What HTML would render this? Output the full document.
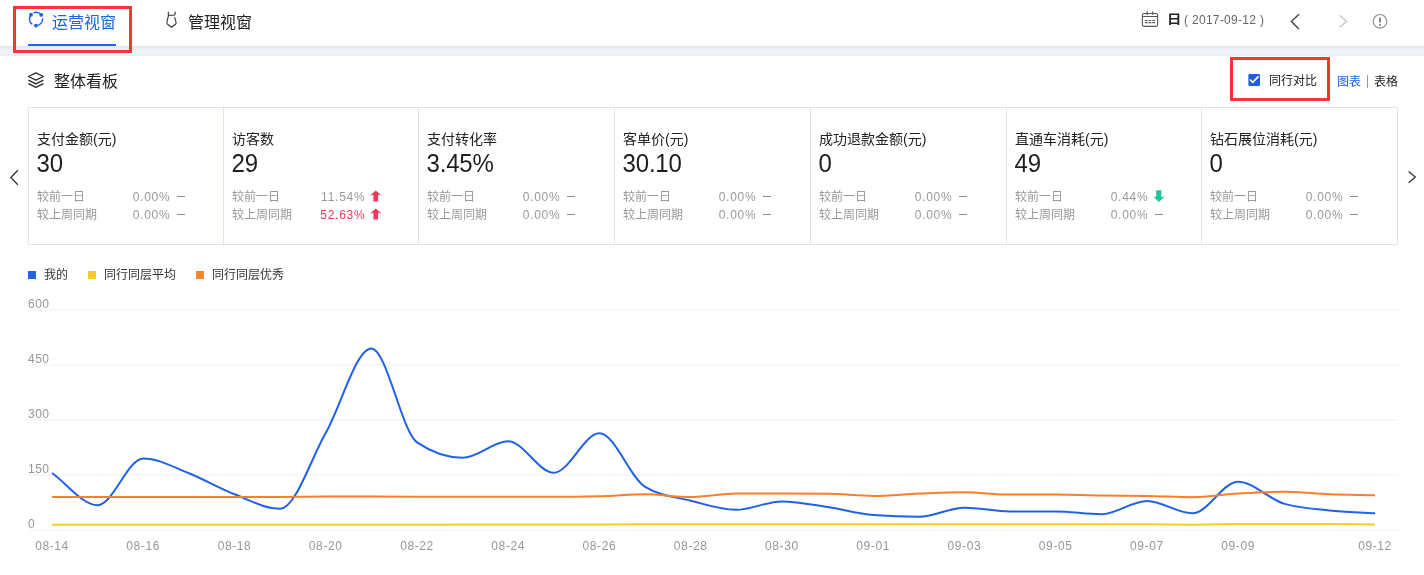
<!DOCTYPE html>
<html lang="zh-CN">
<head>
<meta charset="utf-8">
<title>整体看板</title>
<style>
html,body{margin:0;padding:0;}
body{width:1424px;height:575px;position:relative;overflow:hidden;background:#fff;
  font-family:"Liberation Sans","Noto Sans CJK SC",sans-serif;color:#333;}
.abs{position:absolute;white-space:nowrap;}
.band{position:absolute;left:0;top:46px;width:1424px;height:10px;background:linear-gradient(#dfe2e7 0,#e5e8ed 12%,#ebeef2 30%,#eef1f5 45%,#eef1f5 85%,#e9ecf1 100%);}
.tab{position:absolute;top:10.6px;height:24px;line-height:24px;font-size:16px;}
.redbox{position:absolute;border:3px solid #fa3333;box-sizing:border-box;}
.cards{position:absolute;left:28px;top:107px;width:1370px;height:138px;box-sizing:border-box;border:1px solid #dde6f0;}
.card{position:absolute;top:107px;height:138px;width:196px;box-sizing:border-box;border-left:1px solid #dde6f0;}
.ct{position:absolute;left:8px;top:22px;font-size:14px;line-height:20px;color:#222;white-space:nowrap;}
.cv{position:absolute;left:7.6px;top:42px;font-size:24px;line-height:30px;color:#1e1e1e;white-space:nowrap;letter-spacing:-0.2px;transform:scaleY(1.07);transform-origin:0 72%;}
.rl{position:absolute;left:8px;font-size:12px;line-height:18px;color:#999;white-space:nowrap;}
.rv{position:absolute;right:53.6px;font-size:12px;line-height:18px;color:#999;white-space:nowrap;letter-spacing:0.75px;}
.r1{top:81px;}.r2{top:99px;}
.red{color:#f0385a;}
.dash{position:absolute;left:148px;width:8px;height:1px;background:#8a8a8a;}
.d1{top:89px;}.d2{top:107px;}
.arr{position:absolute;left:146.4px;width:12px;height:13px;}
.lg{position:absolute;top:265px;font-size:12px;line-height:20px;color:#333;white-space:nowrap;}
.sq{position:absolute;top:271px;width:8px;height:8px;}
svg text{font-family:"Liberation Sans","Noto Sans CJK SC",sans-serif;}
</style>
</head>
<body>
<!-- top bar -->
<div class="band"></div>
<svg class="abs" style="left:28px;top:11px" width="16" height="18" viewBox="0 0 16 18" fill="none" stroke="#2062e6" stroke-width="1.4">
  <path d="M5.52,1.92 A6.6,6.6 0 0 1 13.30,3.94"/><path d="M14.67,7.42 A6.6,6.6 0 0 1 7.87,14.60"/><path d="M4.31,13.41 A6.6,6.6 0 0 1 3.04,3.76"/>
  <circle cx="3.04" cy="3.76" r="1.9" fill="#2062e6" stroke="none"/><circle cx="13.30" cy="3.94" r="1.9" fill="#2062e6" stroke="none"/><circle cx="7.87" cy="14.60" r="1.9" fill="#2062e6" stroke="none"/>
</svg>
<div class="tab" style="left:52px;color:#2062e6;">运营视窗</div>
<div class="abs" style="left:28px;top:44px;width:88px;height:2px;background:#2062e6;"></div>
<div class="redbox" style="left:13px;top:6px;width:119px;height:47px;"></div>
<svg class="abs" style="left:164px;top:11px" width="16" height="18" viewBox="0 0 16 18" fill="none" stroke="#333" stroke-width="1.1">
  <path d="M4.3,0.8 V4.25 M11.1,0.8 V4.1 M4.3,4.25 H10.7 M4.5,4.25 L2.9,11.4 Q2.6,12.5 3.6,13.3 L7.6,16.3 L11.4,13.3 Q12.4,12.5 12.1,11.4 L10.6,6.2" stroke-linejoin="round"/>
</svg>
<div class="tab" style="left:188px;color:#222;">管理视窗</div>

<svg class="abs" style="left:1141px;top:11px" width="18" height="18" viewBox="0 0 18 18" fill="none" stroke="#555" stroke-width="1.1">
  <rect x="1.4" y="2.5" width="15.2" height="12.9" rx="1.6"/><path d="M1.4,5.5H16.6M6.2,0.2V4M11.8,0.2V4"/><path d="M4,9.5H14M4,11.6H14" stroke-dasharray="2.7 0.95"/>
</svg>
<div class="abs" style="left:1167px;top:11px;font-size:12px;line-height:18px;font-weight:bold;color:#222;transform:scale(1.2,1);transform-origin:0 80%;">日</div>
<div class="abs" style="left:1184px;top:11px;font-size:12px;line-height:18px;color:#666;letter-spacing:0.3px;">( 2017-09-12 )</div>
<svg class="abs" style="left:1286px;top:11px" width="20" height="22" viewBox="0 0 20 22" fill="none" stroke="#444" stroke-width="1.4"><path d="M13,3.2 L5.4,10.6 L13,18"/></svg>
<svg class="abs" style="left:1334px;top:11px" width="20" height="22" viewBox="0 0 20 22" fill="none" stroke="#cccfd4" stroke-width="1.6"><path d="M5.5,4.4 L12.6,10.4 L5.5,16.4"/></svg>
<svg class="abs" style="left:1371px;top:12px" width="18" height="18" viewBox="0 0 18 18" fill="none" stroke="#8a8a8a" stroke-width="1.1"><circle cx="9" cy="9.3" r="6.8"/><path d="M9,5.4V10.6" stroke-width="2"/><circle cx="9" cy="12.9" r="1.1" fill="#8a8a8a" stroke="none"/></svg>

<!-- section header -->
<svg class="abs" style="left:27px;top:71px" width="18" height="18" viewBox="0 0 18 18" fill="none" stroke="#2a2a2a" stroke-width="1.35" stroke-linejoin="round">
  <path d="M8.9,1.9 L16.4,5.5 L8.9,9.1 L1.4,5.5 Z"/><path d="M1.4,9.2 L8.9,12.9 L16.4,9.2"/><path d="M1.4,12.6 L8.9,16.3 L16.4,12.6"/>
</svg>
<div class="abs" style="left:54px;top:70px;font-size:16px;line-height:24px;color:#222;">整体看板</div>

<div class="redbox" style="left:1230px;top:57px;width:100px;height:44px;"></div>
<svg class="abs" style="left:1248px;top:74px" width="12" height="12" viewBox="0 0 12 12"><rect x="0.4" width="11.6" height="12" rx="1.3" fill="#1f5de6"/><path d="M1.9,5.5 L4.8,8.4 L10.4,2.4" fill="none" stroke="#fff" stroke-width="1.7"/></svg>
<div class="abs" style="left:1269px;top:70.6px;font-size:12px;line-height:20px;color:#222;">同行对比</div>
<div class="abs" style="left:1337px;top:72px;font-size:12px;line-height:20px;color:#2062e6;">图表</div>
<div class="abs" style="left:1367px;top:75px;width:1px;height:13px;background:#999;"></div>
<div class="abs" style="left:1374px;top:72px;font-size:12px;line-height:20px;color:#222;">表格</div>

<!-- carousel arrows -->
<svg class="abs" style="left:6px;top:166px" width="18" height="24" viewBox="0 0 18 24" fill="none" stroke="#333" stroke-width="1.3"><path d="M11.8,4.3 L4.9,11.5 L11.8,18.7"/></svg>
<svg class="abs" style="left:1402px;top:166px" width="18" height="24" viewBox="0 0 18 24" fill="none" stroke="#333" stroke-width="1.3"><path d="M6.6,5.4 L13.3,11.1 L6.6,16.8"/></svg>

<!-- cards -->
<div class="cards"></div>
<div class="card" style="left:28px;"><div class="ct">支付金额(元)</div><div class="cv">30</div><div class="rl r1">较前一日</div><div class="rv r1">0.00%</div><div class="dash d1"></div><div class="rl r2">较上周同期</div><div class="rv r2">0.00%</div><div class="dash d2"></div></div>
<div class="card" style="left:223px;"><div class="ct">访客数</div><div class="cv">29</div><div class="rl r1">较前一日</div><div class="rv r1">11.54%</div><svg class="arr " style="top:82.8px" viewBox="0 0 12 13"><path d="M5.8,0.4 L11.5,5.4 L8.1,4.7 V11.5 H3.4 V4.7 L0.1,5.4 Z" fill="#f0385a"/></svg><div class="rl r2">较上周同期</div><div class="rv r2 red">52.63%</div><svg class="arr " style="top:100.8px" viewBox="0 0 12 13"><path d="M5.8,0.4 L11.5,5.4 L8.1,4.7 V11.5 H3.4 V4.7 L0.1,5.4 Z" fill="#f0385a"/></svg></div>
<div class="card" style="left:418px;"><div class="ct">支付转化率</div><div class="cv">3.45%</div><div class="rl r1">较前一日</div><div class="rv r1">0.00%</div><div class="dash d1"></div><div class="rl r2">较上周同期</div><div class="rv r2">0.00%</div><div class="dash d2"></div></div>
<div class="card" style="left:614px;"><div class="ct">客单价(元)</div><div class="cv">30.10</div><div class="rl r1">较前一日</div><div class="rv r1">0.00%</div><div class="dash d1"></div><div class="rl r2">较上周同期</div><div class="rv r2">0.00%</div><div class="dash d2"></div></div>
<div class="card" style="left:810px;"><div class="ct">成功退款金额(元)</div><div class="cv">0</div><div class="rl r1">较前一日</div><div class="rv r1">0.00%</div><div class="dash d1"></div><div class="rl r2">较上周同期</div><div class="rv r2">0.00%</div><div class="dash d2"></div></div>
<div class="card" style="left:1006px;"><div class="ct">直通车消耗(元)</div><div class="cv">49</div><div class="rl r1">较前一日</div><div class="rv r1">0.44%</div><svg class="arr " style="top:82.8px" viewBox="0 0 12 13"><path d="M3.2,0.2 H8.3 V7.1 L11.6,6.4 L5.9,12.1 L0.2,6.4 L3.2,7.1 Z" fill="#1ec29b"/></svg><div class="rl r2">较上周同期</div><div class="rv r2">0.00%</div><div class="dash d2"></div></div>
<div class="card" style="left:1201px;"><div class="ct">钻石展位消耗(元)</div><div class="cv">0</div><div class="rl r1">较前一日</div><div class="rv r1">0.00%</div><div class="dash d1"></div><div class="rl r2">较上周同期</div><div class="rv r2">0.00%</div><div class="dash d2"></div></div>

<!-- legend -->
<div class="sq" style="left:28px;background:#2062e6;"></div><div class="lg" style="left:44px;">我的</div>
<div class="sq" style="left:88px;background:#f5cd23;"></div><div class="lg" style="left:104px;">同行同层平均</div>
<div class="sq" style="left:196px;background:#fa832d;"></div><div class="lg" style="left:212px;">同行同层优秀</div>

<!-- chart -->
<svg class="abs" style="left:0;top:290px" width="1424" height="285" viewBox="0 290 1424 285">
  <g stroke="#edf0f6" stroke-width="1">
    <path d="M29,310H1398M29,365H1398M29,420H1398M29,475H1398M29,530H1398"/>
  </g>
  <g font-size="12" fill="#969696" letter-spacing="0.5">
    <text x="28" y="308">600</text><text x="28" y="363">450</text><text x="28" y="418">300</text><text x="28" y="473">150</text><text x="28" y="528">0</text>
  </g>
  <g font-size="12" fill="#969696" text-anchor="middle" letter-spacing="0.6">
    <text x="52.0" y="550">08-14</text>
    <text x="143.2" y="550">08-16</text>
    <text x="234.5" y="550">08-18</text>
    <text x="325.7" y="550">08-20</text>
    <text x="417.0" y="550">08-22</text>
    <text x="508.2" y="550">08-24</text>
    <text x="599.4" y="550">08-26</text>
    <text x="690.7" y="550">08-28</text>
    <text x="781.9" y="550">08-30</text>
    <text x="873.2" y="550">09-01</text>
    <text x="964.4" y="550">09-03</text>
    <text x="1055.7" y="550">09-05</text>
    <text x="1146.9" y="550">09-07</text>
    <text x="1238.1" y="550">09-09</text>
    <text x="1375.0" y="550">09-12</text>
  </g>
  <path d="M52.0,473.0C67.2,483.7 82.4,505.2 97.6,505.2C112.8,505.2 128.0,458.4 143.2,458.4C158.4,458.4 173.7,467.2 188.9,473.2C204.1,479.2 219.3,488.4 234.5,494.3C249.7,500.2 264.9,508.8 280.1,508.8C295.3,508.8 310.5,459.7 325.7,433.0C340.9,406.3 356.1,348.4 371.3,348.4C386.6,348.4 401.8,432.1 417.0,442.4C432.2,452.7 447.4,457.8 462.6,457.8C477.8,457.8 493.0,441.3 508.2,441.3C523.4,441.3 538.6,472.8 553.8,472.8C569.0,472.8 584.2,433.3 599.4,433.3C614.7,433.3 629.9,477.7 645.1,486.9C660.3,496.1 675.5,496.9 690.7,500.7C705.9,504.5 721.1,509.8 736.3,509.8C751.5,509.8 766.7,501.4 781.9,501.4C797.1,501.4 812.3,504.7 827.6,507.0C842.8,509.3 858.0,514.0 873.2,515.1C888.4,516.2 903.6,516.8 918.8,516.8C934.0,516.8 949.2,507.7 964.4,507.7C979.6,507.7 994.8,511.4 1010.0,511.4C1025.2,511.4 1040.4,511.4 1055.7,511.4C1070.9,511.4 1086.1,514.3 1101.3,514.3C1116.5,514.3 1131.7,501.0 1146.9,501.0C1162.1,501.0 1177.3,513.3 1192.5,513.3C1207.7,513.3 1222.9,481.7 1238.1,481.7C1253.3,481.7 1268.6,499.1 1283.8,503.6C1299.0,508.1 1314.2,508.8 1329.4,510.4C1344.6,512.0 1359.8,512.3 1375.0,513.3" fill="none" stroke="#2062e6" stroke-width="2" stroke-linejoin="round"/>
  <path d="M52.0,524.8C67.2,524.8 82.4,524.8 97.6,524.8C112.8,524.8 128.0,524.8 143.2,524.8C158.4,524.8 173.7,524.8 188.9,524.8C204.1,524.8 219.3,524.8 234.5,524.8C249.7,524.8 264.9,524.8 280.1,524.8C295.3,524.8 310.5,524.8 325.7,524.8C340.9,524.8 356.1,524.8 371.3,524.8C386.6,524.8 401.8,524.8 417.0,524.8C432.2,524.8 447.4,524.6 462.6,524.6C477.8,524.6 493.0,524.6 508.2,524.6C523.4,524.6 538.6,524.6 553.8,524.6C569.0,524.6 584.2,524.6 599.4,524.6C614.7,524.6 629.9,524.3 645.1,524.3C660.3,524.3 675.5,524.3 690.7,524.3C705.9,524.3 721.1,524.3 736.3,524.3C751.5,524.3 766.7,524.3 781.9,524.3C797.1,524.3 812.3,524.3 827.6,524.3C842.8,524.3 858.0,524.3 873.2,524.3C888.4,524.3 903.6,524.3 918.8,524.3C934.0,524.3 949.2,524.3 964.4,524.3C979.6,524.3 994.8,524.3 1010.0,524.3C1025.2,524.3 1040.4,524.3 1055.7,524.3C1070.9,524.3 1086.1,524.3 1101.3,524.3C1116.5,524.3 1131.7,524.3 1146.9,524.3C1162.1,524.3 1177.3,524.7 1192.5,524.7C1207.7,524.7 1222.9,524.0 1238.1,524.0C1253.3,524.0 1268.6,524.0 1283.8,524.0C1299.0,524.0 1314.2,524.0 1329.4,524.0C1344.6,524.0 1359.8,524.3 1375.0,524.4" fill="none" stroke="#f5cd23" stroke-width="2"/>
  <path d="M52.0,497.0C67.2,497.0 82.4,497.0 97.6,497.0C112.8,497.0 128.0,497.0 143.2,497.0C158.4,497.0 173.7,496.9 188.9,496.9C204.1,496.9 219.3,496.9 234.5,496.9C249.7,496.9 264.9,496.9 280.1,496.9C295.3,496.9 310.5,496.6 325.7,496.6C340.9,496.6 356.1,496.6 371.3,496.6C386.6,496.6 401.8,496.7 417.0,496.7C432.2,496.7 447.4,496.7 462.6,496.7C477.8,496.7 493.0,496.7 508.2,496.7C523.4,496.7 538.6,496.8 553.8,496.8C569.0,496.8 584.2,496.6 599.4,496.3C614.7,496.0 629.9,494.2 645.1,494.2C660.3,494.2 675.5,497.1 690.7,497.1C705.9,497.1 721.1,493.6 736.3,493.6C751.5,493.6 766.7,493.6 781.9,493.6C797.1,493.6 812.3,493.7 827.6,493.8C842.8,493.9 858.0,495.9 873.2,495.9C888.4,495.9 903.6,494.2 918.8,493.6C934.0,493.0 949.2,492.2 964.4,492.2C979.6,492.2 994.8,494.6 1010.0,494.6C1025.2,494.6 1040.4,494.6 1055.7,494.6C1070.9,494.6 1086.1,495.4 1101.3,495.6C1116.5,495.8 1131.7,495.7 1146.9,495.9C1162.1,496.1 1177.3,497.2 1192.5,497.2C1207.7,497.2 1222.9,494.5 1238.1,493.6C1253.3,492.7 1268.6,491.7 1283.8,491.7C1299.0,491.7 1314.2,493.7 1329.4,494.3C1344.6,494.9 1359.8,494.9 1375.0,495.2" fill="none" stroke="#fa7f2a" stroke-width="2"/>
</svg>
</body>
</html>
